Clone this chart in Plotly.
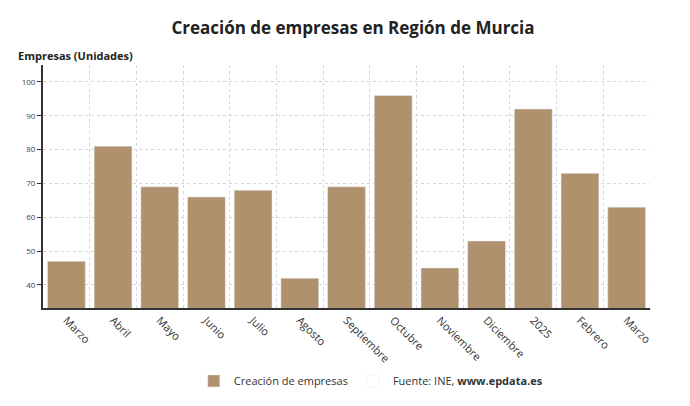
import plotly.graph_objects as go

categories = ["Marzo","Abril","Mayo","Junio","Julio","Agosto","Septiembre","Octubre","Noviembre","Diciembre","2025","Febrero","Marzo "]
values = [47, 81, 69, 66, 68, 42, 69, 96, 45, 53, 92, 73, 63]
yticks = [40, 50, 60, 70, 80, 90, 100]

fig = go.Figure(go.Bar(x=categories, y=values, marker_color="#b0916e", name="Creación de empresas"))
fig.add_trace(go.Bar(x=[None], y=[None], name="Fuente: INE, <b>www.epdata.es</b>", marker_color="rgba(0,0,0,0)"))

font = "Open Sans"
fig.update_layout(
    width=690, height=406, margin=dict(l=35, r=48, t=57, b=106, autoexpand=False),
    paper_bgcolor="white", plot_bgcolor="white", bargap=0.19,
    font=dict(family=font, color="#333"),
    title=dict(text="<b>Creación de empresas en Región de Murcia</b>", x=0.5, xanchor="center", y=0.95, yanchor="middle", font=dict(size=17, color="#222")),
    legend=dict(orientation="h", x=0.54, xanchor="center", y=-0.3, yanchor="middle", font=dict(size=11, color="#333"), itemwidth=30),
    annotations=[dict(text="<b>Empresas (Unidades)</b>", xref="paper", yref="paper", x=-0.045, y=1.04, xanchor="left", yanchor="middle", showarrow=False, font=dict(size=11, color="#222"))],
)
fig.update_xaxes(automargin=False, tickangle=45, tickfont=dict(size=11, color="#333"), showline=True, linecolor="#333", linewidth=1.5,
                 tickson="boundaries", showgrid=True, gridcolor="#d6d6d6", griddash="dot", ticks="", range=[-0.5, 12.5])
fig.update_yaxes(automargin=False, range=[33.2, 105], tickvals=yticks, tickfont=dict(size=8, color="#444"), showgrid=True, gridcolor="#d6d6d6", griddash="dot",
                 showline=True, linecolor="#333", linewidth=2, ticks="outside", ticklen=4, tickcolor="#333", zeroline=False)
fig.write_html("out.html")
